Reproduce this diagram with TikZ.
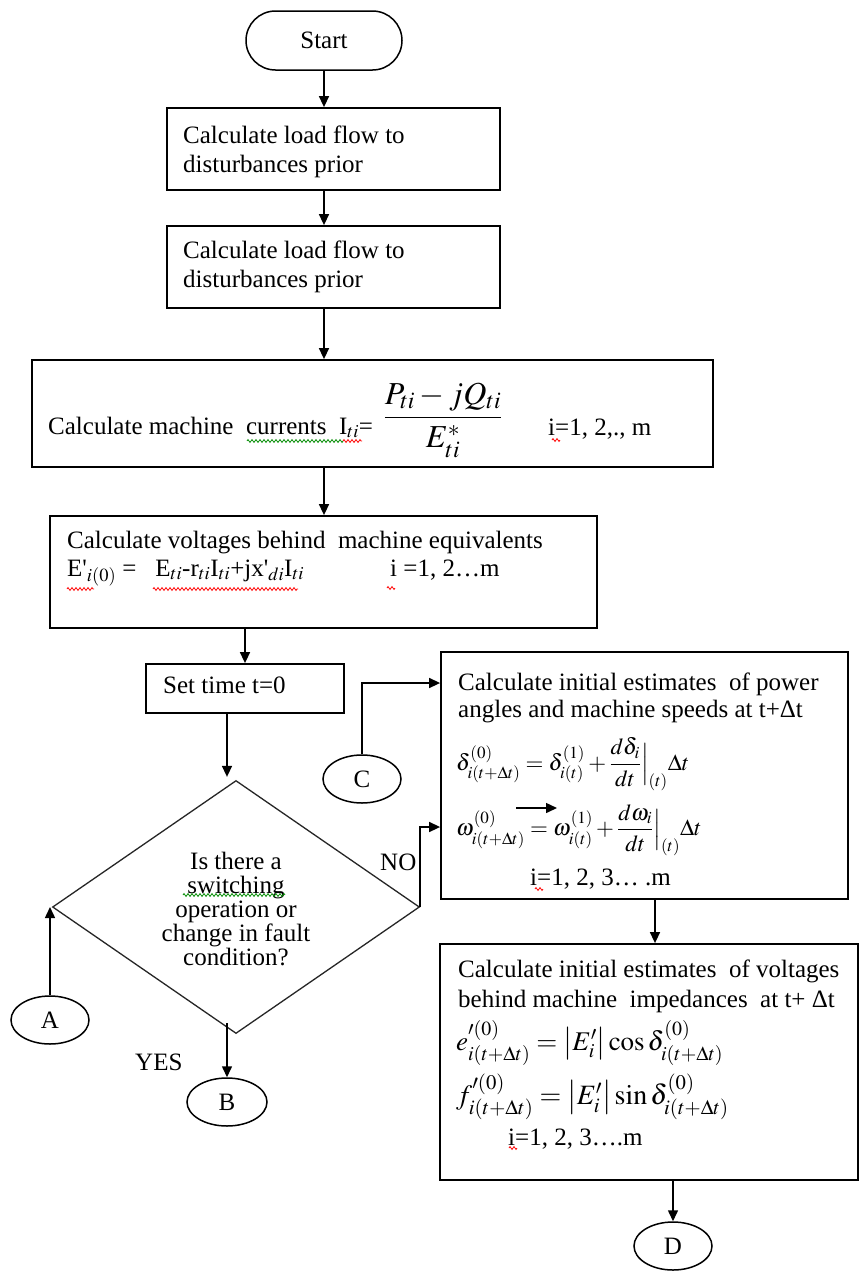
\documentclass[tikz,border=0pt]{standalone}
\usepackage{amsmath}
\usepackage{mathptmx}
\usepackage[no-math]{fontspec}
\setmainfont{Liberation Serif}
\usetikzlibrary{arrows.meta,shapes.geometric,shapes.misc,decorations.pathmorphing}
\begin{document}
\begin{tikzpicture}[x=1pt,y=-1pt,
  box/.style={draw=black, line width=1.8pt, inner sep=0pt},
  txt/.style={inner sep=0pt, font=\fontsize{25}{29}\selectfont},
  conn/.style={draw=black, line width=1.5pt, ellipse, inner sep=0pt, minimum width=78pt, minimum height=48pt, font=\fontsize{25}{29}\selectfont},
  arr/.style={line width=1.5pt, -{Triangle[length=11pt,width=10pt]}},
  sqr/.style={red, line width=0.8pt, decorate, decoration={zigzag, segment length=4pt, amplitude=1.4pt}},
  sqg/.style={green!55!black, line width=0.8pt, decorate, decoration={zigzag, segment length=4pt, amplitude=1.4pt}},
  fml/.style={inner sep=0pt, anchor=west}
]
\fill[white] (0,0) rectangle (860,1272);
\useasboundingbox (0,0) rectangle (860,1272);

% shapes
\node[draw=black, line width=1.5pt, rounded rectangle, minimum width=156pt, minimum height=59pt, txt] (start) at (324,40.5) {Start};
\node[box, minimum width=333pt, minimum height=82pt] (b1) at (333.5,149) {};
\node[box, minimum width=333pt, minimum height=82pt] (b2) at (333.5,267) {};
\node[box, minimum width=681pt, minimum height=107pt] (b3) at (372.5,413.5) {};
\node[box, minimum width=547pt, minimum height=112pt] (b4) at (323.5,572) {};
\node[box, minimum width=198pt, minimum height=49pt] (b5) at (245,688.5) {};
\node[box, minimum width=407pt, minimum height=247pt] (b6) at (644.5,775.5) {};
\node[box, minimum width=418pt, minimum height=236pt] (b7) at (649,1062) {};
\node[draw=black!85, line width=1.3pt, diamond, inner sep=0pt, minimum width=367pt, minimum height=253pt] (dec) at (236,907) {};
\node[conn] (C) at (362,779) {C};
\node[conn] (A) at (50,1020) {A};
\node[conn, minimum width=80pt] (B) at (227,1102) {B};
\node[conn] (D) at (673,1246) {D};

% texts
\node[txt, anchor=base west] (t1a) at (183,143) {Calculate load flow to};
\node[txt, anchor=base west] (t1b) at (183,172) {disturbances prior};
\node[txt, anchor=base west] (t2a) at (183,258) {Calculate load flow to};
\node[txt, anchor=base west] (t2b) at (183,287) {disturbances prior};
\node[txt, anchor=base west] (t3a) at (48,434) {Calculate machine\ \ currents\ \ I$_{ti}$=};
\node[inner sep=0pt, font=\fontsize{32}{36}\selectfont] (t3f) at (443,420) {$\dfrac{P_{ti}-jQ_{ti}}{E^{*}_{ti}}$};
\node[txt, anchor=base west] (t3i) at (548,435) {i=1, 2,., m};
\node[txt, anchor=base west] (t4a) at (67,548) {Calculate voltages behind\ \ machine equivalents};
\node[txt, anchor=base west] (t4b) at (67,576) {E\textquotesingle$_{i(0)}$ =\ \ \ E$_{ti}$-r$_{ti}$I$_{ti}$+jx\textquotesingle$_{di}$I$_{ti}$};
\node[txt, anchor=base west] (t4c) at (390,576) {i =1, 2\ldots m};
\node[txt, anchor=base west] (t5) at (163,693) {Set time t=0};
\node[txt, align=center, font=\fontsize{25}{24}\selectfont] (tq) at (236,909) {Is there a\\switching\\operation or\\change in fault\\condition?};
\node[txt, anchor=base west] (tno) at (380,870) {NO};
\node[txt, anchor=base west] (tyes) at (135,1070) {YES};
\node[txt, anchor=base west] (t6a) at (458,690) {Calculate initial estimates\ \ of power};
\node[txt, anchor=base west] (t6b) at (458,717) {angles and machine speeds at t+Δt};
\node[fml, font=\fontsize{23}{26}\selectfont] (f6a) at (456,764) {$\delta^{(0)}_{i(t+\Delta t)} = \delta^{(1)}_{i(t)} + \dfrac{d\delta_i}{dt}\Big|_{(t)}\Delta t$};
\node[fml, font=\fontsize{23}{26}\selectfont] (f6b) at (456,830) {$\omega^{(0)}_{i(t+\Delta t)} = \omega^{(1)}_{i(t)} + \dfrac{d\omega_i}{dt}\Big|_{(t)}\Delta t$};
\node[txt, anchor=base west] (t6c) at (530,885) {i=1, 2, 3\ldots\ .m};
\node[txt, anchor=base west] (t7a) at (458,977) {Calculate initial estimates\ \ of voltages};
\node[txt, anchor=base west] (t7b) at (458,1007) {behind machine\ \ impedances\ \ at t+ Δt};
\node[fml, font=\fontsize{27}{31}\selectfont] (f7a) at (456,1043) {$e'^{(0)}_{i(t+\Delta t)} = \bigl|E'_i\bigr|\cos\delta^{(0)}_{i(t+\Delta t)}$};
\node[fml, font=\fontsize{28}{32}\selectfont] (f7b) at (456,1097) {$f'^{(0)}_{i(t+\Delta t)} = \bigl|E'_i\bigr|\sin\delta^{(0)}_{i(t+\Delta t)}$};
\node[txt, anchor=base west] (t7c) at (508,1145) {i=1, 2, 3\ldots.m};

% helper coordinates
\coordinate (x227) at (227,0);
\coordinate (x655) at (655,0);
\coordinate (noturn) at (420,827);
\coordinate (cturn) at (362,683);
\coordinate (decB) at (227,1023);
\coordinate (sa1) at (516,808);
\coordinate (sa2) at (557,808);

% connectors
\draw[arr] (start.south) -- (start.south |- b1.north);
\draw[arr] (start.south |- b1.south) -- (start.south |- b2.north);
\draw[arr] (start.south |- b2.south) -- (start.south |- b3.north);
\draw[arr] (start.south |- b3.south) -- (start.south |- b4.north);
\draw[arr] (b5.north |- b4.south) -- (b5.north);
\draw[arr] (x227 |- b5.south) -- ([yshift=3pt]x227 |- dec.north);
\draw[arr] (dec.east) |- (b6.west |- noturn);
\draw[arr] (C.north) |- (b6.west |- cturn);
\draw[arr] (x655 |- b6.south) -- (x655 |- b7.north);
\draw[arr] (D.north |- b7.south) -- (D.north);
\draw[arr] (A.north) -- (A.north |- dec.west);
\draw[arr] (decB) -- (B.north);
\draw[arr] (sa1) -- (sa2);

% spell-check marks
\draw[sqg] (247,441) -- (343,441);
\draw[sqr] (343,441) -- (362,441);
\draw[sqr] (552,440) -- (560,440);
\draw[sqr] (67,589) -- (94,589);
\draw[sqr] (153,589) -- (298,589);
\draw[sqr] (387,588) -- (395,588);
\draw[sqg] (183,895) -- (285,895);
\draw[sqr] (535,889) -- (543,889);
\draw[sqr] (509,1148) -- (517,1148);
\end{tikzpicture}
\end{document}
